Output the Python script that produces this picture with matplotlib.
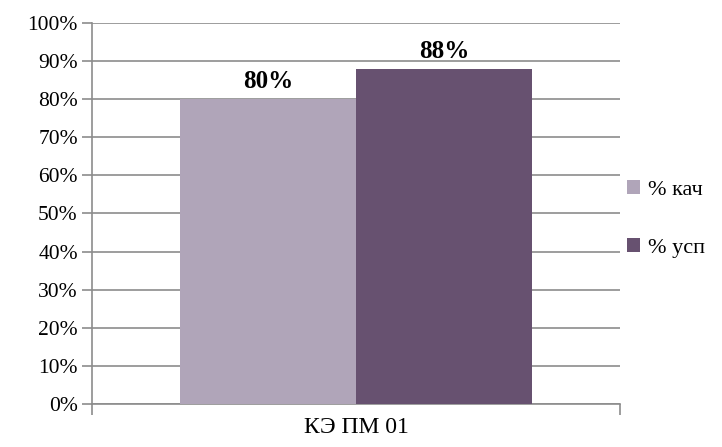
import matplotlib.pyplot as plt

# Data
category = "КЭ ПМ 01"
series_names = ["% кач", "% усп"]
values = [80, 88]
colors = ["#B0A5B9", "#675170"]

plt.rcParams['font.family'] = ['Liberation Serif', 'DejaVu Serif']

fig = plt.figure(figsize=(7.22, 4.47), dpi=100)
ax = fig.add_axes([0.127, 0.096, 0.732, 0.853])

bar_width = 1 / 3
offsets = [-bar_width / 2, bar_width / 2]
for name, val, col, off in zip(series_names, values, colors, offsets):
    ax.bar(off, val, bar_width, color=col, label=name, zorder=3)
    ax.text(off, val + 1.5, f"{val}%", ha='center', va='bottom',
            fontsize=18, fontweight='bold', zorder=4)

ax.set_xlim(-0.5, 0.5)
ax.set_ylim(0, 100)
ax.set_yticks(range(0, 101, 10))
ax.set_yticklabels([f"{v}%" for v in range(0, 101, 10)])
ax.yaxis.grid(True, color='#8c8c8c', linewidth=1.2, zorder=0)

# category axis: boundary ticks, label in the middle
ax.set_xticks([-0.5, 0.5])
ax.set_xticklabels(["", ""])
ax.set_xticks([0], minor=True)
ax.set_xticklabels([category], minor=True)
ax.tick_params(axis='x', which='major', length=8, color='#8c8c8c', width=1.2)
ax.tick_params(axis='x', which='minor', length=0, labelsize=17, pad=9)
ax.tick_params(axis='y', length=7, color='#8c8c8c', width=1.2, labelsize=15.5, pad=3)

for s in ['top', 'right']:
    ax.spines[s].set_visible(False)
for s in ['left', 'bottom']:
    ax.spines[s].set_color('#8c8c8c')
    ax.spines[s].set_linewidth(1.2)

ax.legend(loc='center left', bbox_to_anchor=(1.0, 0.485), frameon=False,
          fontsize=16, handlelength=0.6, handleheight=0.6,
          labelspacing=1.7, handletextpad=0.35, borderaxespad=0.1,
          borderpad=0.2)

fig.savefig("out.png", dpi=100)
